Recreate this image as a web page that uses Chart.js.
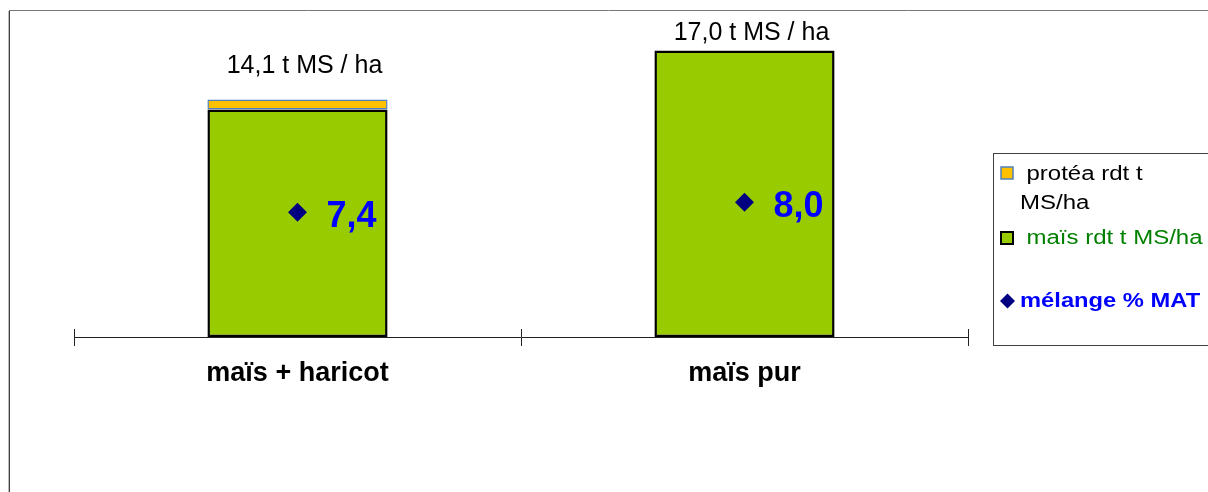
<!DOCTYPE html>
<html><head><meta charset="utf-8">
<script src="https://cdn.jsdelivr.net/npm/chart.js@4.4.0/dist/chart.umd.min.js"></script>
<style>html,body{margin:0;padding:0;background:#fff;overflow:hidden}#wrap{width:1208px;height:492px;}</style>
</head><body><div id="wrap"><canvas id="c" width="1208" height="492"></canvas></div>
<script>
const categories = ['maïs + haricot', 'maïs pur'];
const maisRdt = [13.5, 17.0];
const proteaRdt = [0.6, 0];
const melangeMAT = [7.4, 8.0];
const seriesNames = ['protéa rdt t MS/ha', 'maïs rdt t MS/ha', 'mélange % MAT'];
const totalUnit = ' t MS / ha';
const yMax = 20;

const FONT = "'Liberation Sans', Arial, sans-serif";
const fmt = v => v.toFixed(1).replace('.', ',');

const decor = {
  id: 'decor',
  afterDraw(chart) {
    const ctx = chart.ctx;
    const xs = chart.scales.x, ys = chart.scales.y;
    ctx.save();
    ctx.lineWidth = 1;
    ctx.strokeStyle = '#bbbbbb';
    ctx.beginPath(); ctx.moveTo(8.5, 11); ctx.lineTo(8.5, 492); ctx.stroke();
    ctx.strokeStyle = '#404040';
    ctx.beginPath(); ctx.moveTo(9.5, 10.5); ctx.lineTo(9.5, 492); ctx.stroke();
    ctx.strokeStyle = '#777777';
    ctx.beginPath(); ctx.moveTo(9, 10.5); ctx.lineTo(1208, 10.5); ctx.stroke();
    ctx.strokeStyle = '#222';
    const n = categories.length;
    for (let i = 0; i <= n; i++) {
      const x = Math.round(xs.left + i * (xs.right - xs.left) / n) + 0.5;
      ctx.beginPath(); ctx.moveTo(x, ys.bottom - 8); ctx.lineTo(x, ys.bottom); ctx.stroke();
    }
    const metaM = chart.getDatasetMeta(0);
    const gaps = [26, 11];
    ctx.fillStyle = '#000';
    ctx.font = '25px ' + FONT;
    ctx.textAlign = 'center';
    ctx.textBaseline = 'alphabetic';
    categories.forEach((c, i) => {
      const tot = maisRdt[i] + proteaRdt[i];
      const top = ys.getPixelForValue(tot);
      ctx.fillText(fmt(tot) + totalUnit, metaM.data[i].x + 7, top - gaps[i]);
    });
    const metaL = chart.getDatasetMeta(2);
    ctx.font = 'bold 36px ' + FONT;
    ctx.fillStyle = '#0000FF';
    ctx.textAlign = 'left';
    metaL.data.forEach((p, i) => {
      ctx.fillText(fmt(melangeMAT[i]), p.x + 29, p.y + 15);
    });
    ctx.strokeStyle = '#404040';
    ctx.strokeRect(993.5, 153.5, 300, 192);
    ctx.fillStyle = '#FFC000';
    ctx.fillRect(1001, 167, 12, 12);
    ctx.strokeStyle = '#4F81BD'; ctx.lineWidth = 1.5;
    ctx.strokeRect(1001, 167, 12, 12);
    const stretchText = (txt, x, y, sx) => {
      ctx.save(); ctx.translate(x, y); ctx.scale(sx, 1); ctx.fillText(txt, 0, 0); ctx.restore();
    };
    ctx.font = '20px ' + FONT;
    ctx.fillStyle = '#000';
    stretchText('protéa rdt t', 1026.5, 180, 1.2);
    stretchText('MS/ha', 1020, 208.5, 1.2);
    ctx.fillStyle = '#99CC00';
    ctx.fillRect(1001, 232, 12, 12);
    ctx.strokeStyle = '#000'; ctx.lineWidth = 2;
    ctx.strokeRect(1001, 232, 12, 12);
    ctx.fillStyle = '#008000';
    stretchText(seriesNames[1], 1026.5, 243.5, 1.2);
    ctx.fillStyle = '#000080';
    ctx.beginPath();
    ctx.moveTo(1007.5, 293.5); ctx.lineTo(1015, 301); ctx.lineTo(1007.5, 308.5); ctx.lineTo(1000, 301); ctx.closePath();
    ctx.fill();
    ctx.font = 'bold 21px ' + FONT;
    ctx.fillStyle = '#0000FF';
    stretchText(seriesNames[2], 1020, 307, 1.13);
    ctx.restore();
  }
};

new Chart(document.getElementById('c'), {
  data: {
    labels: categories,
    datasets: [
      { type: 'bar', label: seriesNames[1], data: maisRdt, backgroundColor: '#99CC00', borderColor: '#000000', borderWidth: 2.5, borderSkipped: false, stack: 's', order: 2 },
      { type: 'bar', label: seriesNames[0], data: proteaRdt, backgroundColor: '#FFC000', borderColor: '#4F81BD', borderWidth: 1.5, borderSkipped: false, stack: 's', order: 2 },
      { type: 'line', label: seriesNames[2], data: melangeMAT, yAxisID: 'y2', showLine: false, pointStyle: 'rectRot', pointRadius: 9.5, pointHoverRadius: 9.5, pointBackgroundColor: '#000080', pointBorderColor: '#000080', pointBorderWidth: 0, borderColor: '#000080', order: 1 }
    ]
  },
  options: {
    responsive: false,
    animation: false,
    events: [],
    layout: { autoPadding: false, padding: { left: 74, right: 240, top: 0, bottom: 0 } },
    datasets: { bar: { barPercentage: 0.403, categoryPercentage: 1 } },
    plugins: { legend: { display: false }, tooltip: { enabled: false } },
    scales: {
      x: {
        stacked: true,
        offset: true,
        grid: { offset: true, drawOnChartArea: false, drawTicks: true, tickLength: 9, color: '#222', lineWidth: 1 },
        border: { display: true, color: '#222', width: 1 },
        ticks: { color: '#000', font: { family: FONT, size: 27, weight: 'bold' }, padding: 11, maxRotation: 0 },
        afterFit(s) { s.height = 155; }
      },
      y: { stacked: true, display: false, min: 0, max: yMax },
      y2: { display: false, min: 0, max: yMax }
    }
  },
  plugins: [decor]
});
</script>
</body></html>
